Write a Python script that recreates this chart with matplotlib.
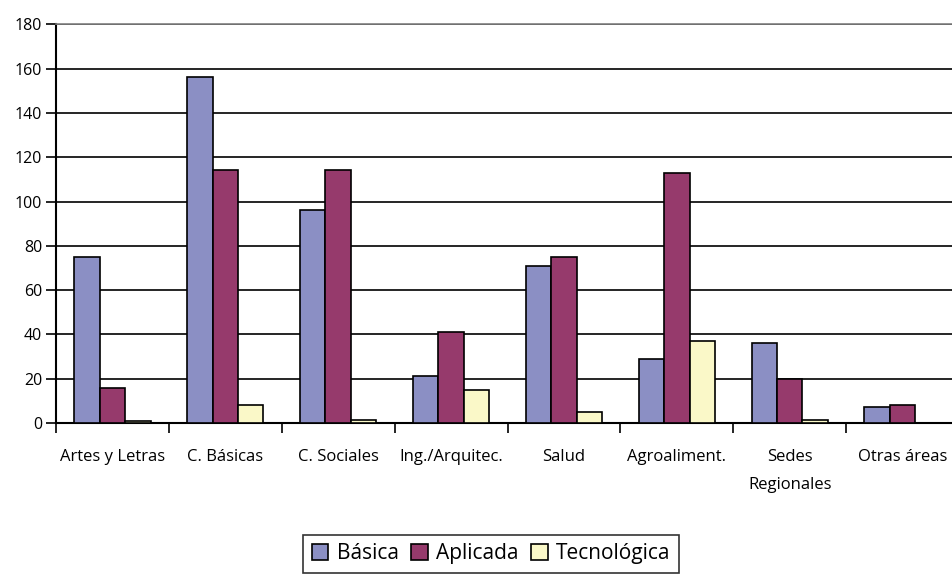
import matplotlib
matplotlib.use("Agg")
import matplotlib.pyplot as plt
import numpy as np

categories = ["Artes y Letras", "C. Básicas", "C. Sociales", "Ing./Arquitec.",
              "Salud", "Agroaliment.", "Sedes\nRegionales", "Otras áreas"]
basica = [75, 156, 96, 21, 71, 29, 36, 7]
aplicada = [16, 114, 114, 41, 75, 113, 20, 8]
tecnologica = [1, 8, 1.5, 15, 5, 37, 1.5, 0]
series_names = ["Básica", "Aplicada", "Tecnológica"]
colors = ["#8B8FC4", "#963A6C", "#FAF8C8"]
y_ticks = [0, 20, 40, 60, 80, 100, 120, 140, 160, 180]

plt.rcParams["font.family"] = ["Open Sans", "DejaVu Sans"]

fig = plt.figure(figsize=(9.52, 5.79), dpi=100)
ax = fig.add_axes([56 / 952, 1 - 423 / 579, (959 - 56) / 952, (423 - 24.3) / 579])

x = np.arange(len(categories))
w = 0.225
for i, (vals, name, c) in enumerate(zip([basica, aplicada, tecnologica], series_names, colors)):
    ax.bar(x + (i - 1) * w, vals, width=w, color=c, edgecolor="black",
           linewidth=1.2, label=name, zorder=3)

ax.set_xlim(-0.5, len(categories) - 0.5)
ax.set_ylim(0, 180)
ax.set_yticks(y_ticks)
ax.set_yticklabels([str(v) for v in y_ticks], fontsize=11.5)
ax.yaxis.grid(True, color="black", linewidth=1.2, zorder=0)

# tick marks at category boundaries, labels at centers
ax.set_xticks(np.arange(-0.5, len(categories), 1.0))
ax.set_xticklabels([])
ax.set_xticks(x, minor=True)
ax.set_xticklabels(categories, minor=True, fontsize=12, linespacing=2.0, va="top")
ax.tick_params(axis="x", which="minor", length=0, pad=19)
ax.tick_params(axis="x", which="major", length=7, width=1.2, direction="out")
ax.tick_params(axis="y", length=7, width=1.2, direction="out", pad=3)

for s in ["left", "bottom"]:
    ax.spines[s].set_linewidth(1.5)
    ax.spines[s].set_color("black")
ax.spines["top"].set_color("#808080")
ax.spines["top"].set_linewidth(1.2)
ax.spines["right"].set_visible(False)

leg = fig.legend(loc="upper center", bbox_to_anchor=(491 / 952, 1 - 535 / 579), ncol=3,
                 fontsize=15, frameon=True, fancybox=False, edgecolor="black",
                 handlelength=0.8, handleheight=0.8, handletextpad=0.4,
                 columnspacing=0.6, borderpad=0.4, borderaxespad=0)
leg.get_frame().set_linewidth(1.2)

fig.savefig("out.png", dpi=100)
